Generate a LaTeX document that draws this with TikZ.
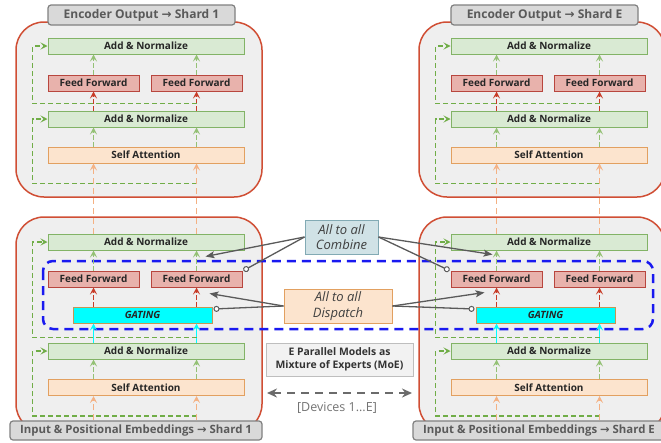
\documentclass[tikz,border=0pt]{standalone}
\usepackage{fontspec}
\setmainfont{Open Sans}
\newfontfamily\arrfont{DejaVu Sans}
\usetikzlibrary{arrows.meta,calc}
\definecolor{moe_panel}{RGB}{239,239,239}
\definecolor{moe_red}{RGB}{208,78,52}
\definecolor{an_fill}{RGB}{217,234,211}
\definecolor{an_draw}{RGB}{130,179,102}
\definecolor{ff_fill}{RGB}{232,178,172}
\definecolor{ff_draw}{RGB}{184,70,62}
\definecolor{sa_fill}{RGB}{252,228,206}
\definecolor{sa_draw}{RGB}{226,160,96}
\definecolor{gate_fill}{RGB}{0,255,255}
\definecolor{gate_draw}{RGB}{196,150,84}
\definecolor{ttl_fill}{RGB}{217,217,217}
\definecolor{ttl_draw}{RGB}{128,128,128}
\definecolor{ttl_text}{RGB}{90,90,90}
\definecolor{cmb_fill}{RGB}{208,226,230}
\definecolor{cmb_draw}{RGB}{130,170,180}
\definecolor{moe_fill}{RGB}{242,242,242}
\definecolor{moe_draw}{RGB}{190,190,190}
\definecolor{arr_gray}{RGB}{90,90,90}
\definecolor{dash_green}{RGB}{112,173,71}
\definecolor{dash_orange}{RGB}{244,177,131}
\definecolor{up_red}{RGB}{200,60,40}
\definecolor{frame_blue}{RGB}{25,25,240}
\tikzstyle{panel}=[rectangle,rounded corners=28pt,fill=moe_panel,draw=moe_red,
  line width=1.5pt,minimum width=246pt]
\tikzstyle{blk}=[rectangle,line width=1pt,minimum height=16pt,inner sep=0pt,
  font=\fontsize{10}{11}\selectfont\bfseries,text=black!85]
\tikzstyle{an}=[blk,fill=an_fill,draw=an_draw,minimum width=196pt]
\tikzstyle{ff}=[blk,fill=ff_fill,draw=ff_draw,minimum width=91pt]
\tikzstyle{sa}=[blk,fill=sa_fill,draw=sa_draw,minimum width=196pt]
\tikzstyle{gate}=[blk,fill=gate_fill,draw=gate_draw,minimum width=139pt,
  font=\fontsize{10}{11}\selectfont\bfseries\itshape]
\tikzstyle{ttl}=[rectangle,rounded corners=3pt,fill=ttl_fill,draw=ttl_draw,
  line width=1.2pt,text=ttl_text,inner sep=0pt,font=\fontsize{12}{14}\selectfont\bfseries]
\tikzstyle{mid}=[rectangle,line width=1pt,inner sep=0pt,align=center,text=black!75,
  font=\fontsize{13}{15.5}\selectfont\itshape,minimum height=34pt]
\tikzstyle{tip}=[-{Stealth[length=7pt,width=7pt,inset=3pt]}]
\tikzstyle{greenup}=[tip,draw=dash_green!75,line width=1pt,dash pattern=on 5pt off 2pt]
\tikzstyle{redup}=[tip,draw=up_red,line width=1pt,dash pattern=on 5pt off 2pt]
\tikzstyle{cyanup}=[tip,draw=gate_fill,line width=1.2pt]
\tikzstyle{orangeup}=[tip,draw=dash_orange,line width=1.2pt,dash pattern=on 6pt off 4pt]
\tikzstyle{loopgreen}=[tip,draw=dash_green,line width=1.2pt,dash pattern=on 5pt off 3pt]
\tikzstyle{grayarr}=[-{Stealth[length=9pt,width=7pt,inset=2pt]},draw=arr_gray,line width=1.3pt]
\tikzstyle{graydot}=[-{Circle[length=6pt,fill=white,line width=1pt]},draw=arr_gray,line width=1.3pt]

\begin{document}
\begin{tikzpicture}[x=1pt,y=-1pt]
    \useasboundingbox (0,0) rectangle (661,442);
    % shard panels
    \foreach \s/\dx in {1/0,E/403} {
    \begin{scope}[xshift=\dx pt]
    \node [panel,minimum height=175pt] (pt-\s) at (139,109.5) {};
    \node [panel,minimum height=215pt] (pb-\s) at (139,324.5) {};
    \end{scope}
    }
    \draw [frame_blue,line width=2.5pt,rounded corners=10pt,dash pattern=on 9pt off 6pt]
      (43,261) rectangle (653,329);
    \foreach \s/\dx in {1/0,E/403} {
    \begin{scope}[xshift=\dx pt]
    % encoder output part
    \node [ttl,minimum width=187pt,minimum height=20pt] (tt-\s) at (141.5,15)
      {Encoder Output {\arrfont\bfseries →} Shard \s};
    \node [an] (ant-\s) at (146,46) {Add \& Normalize};
    \node [ff] (ffta-\s) at (93.5,83) {Feed Forward};
    \node [ff] (fftb-\s) at (196.5,83) {Feed Forward};
    \node [an] (anm-\s) at (146,119) {Add \& Normalize};
    \node [sa] (sat-\s) at (146,155) {Self Attention};
    \draw [greenup] (sat-\s.north -| ffta-\s) to (anm-\s.south -| ffta-\s);
    \draw [greenup] (sat-\s.north -| fftb-\s) to (anm-\s.south -| fftb-\s);
    \draw [redup] (anm-\s.north -| ffta-\s) to (ffta-\s.south);
    \draw [redup] (anm-\s.north -| fftb-\s) to (fftb-\s.south);
    \draw [greenup] (ffta-\s.north) to (ant-\s.south -| ffta-\s);
    \draw [greenup] (fftb-\s.north) to (ant-\s.south -| fftb-\s);
    \draw [loopgreen] ($(fftb-\s.south)+(0,12)$) -| ($(ant-\s.west)+(-15,0)$) to (ant-\s.west);
    \draw [loopgreen] ($(sat-\s.south -| fftb-\s)+(0,20)$) -| ($(anm-\s.west)+(-15,0)$) to (anm-\s.west);
    % moe part
    \node [an] (anb-\s) at (146,242) {Add \& Normalize};
    \node [ff] (ffba-\s) at (93.5,279) {Feed Forward};
    \node [ff] (ffbb-\s) at (196.5,279) {Feed Forward};
    \node [gate] (gate-\s) at (142.5,315) {GATING};
    \node [an] (anl-\s) at (146,351) {Add \& Normalize};
    \node [sa] (sab-\s) at (146,387.5) {Self Attention};
    \node [ttl,minimum width=252pt,minimum height=19pt,font=\fontsize{11.4}{13}\selectfont\bfseries]
      (tb-\s) at (136,430.5) {Input \& Positional Embeddings {\arrfont\bfseries →} Shard \s};
    \draw [orangeup] (anb-\s.north -| ffta-\s) to (sat-\s.south -| ffta-\s);
    \draw [orangeup] (anb-\s.north -| fftb-\s) to (sat-\s.south -| fftb-\s);
    \draw [greenup] (sab-\s.north -| ffba-\s) to (anl-\s.south -| ffba-\s);
    \draw [greenup] (sab-\s.north -| ffbb-\s) to (anl-\s.south -| ffbb-\s);
    \draw [cyanup] (anl-\s.north -| ffba-\s) to (gate-\s.south -| ffba-\s);
    \draw [cyanup] (anl-\s.north -| ffbb-\s) to (gate-\s.south -| ffbb-\s);
    \draw [redup] (gate-\s.north -| ffba-\s) to (ffba-\s.south);
    \draw [redup] (gate-\s.north -| ffbb-\s) to (ffbb-\s.south);
    \draw [greenup] (ffba-\s.north) to (anb-\s.south -| ffba-\s);
    \draw [greenup] (ffbb-\s.north) to (anb-\s.south -| ffbb-\s);
    \draw [loopgreen] ($(gate-\s.south -| ffbb-\s)+(0,14)$) -| ($(anb-\s.west)+(-15,0)$) to (anb-\s.west);
    \draw [loopgreen] ($(sab-\s.south -| ffbb-\s)+(0,20)$) -| ($(anl-\s.west)+(-15,0)$) to (anl-\s.west);
    \draw [orangeup] (tb-\s.north -| ffba-\s) to (sab-\s.south -| ffba-\s);
    \draw [orangeup] (tb-\s.north -| ffbb-\s) to (sab-\s.south -| ffbb-\s);
    \end{scope}
    }
    % all to all
    \node [mid,fill=cmb_fill,draw=cmb_draw,minimum width=73pt] (comb) at (341.5,237) {All to all\\Combine};
    \node [mid,fill=sa_fill,draw=sa_draw,minimum width=108pt] (disp) at (338,306) {All to all\\Dispatch};
    \node [mid,fill=moe_fill,draw=moe_draw,minimum width=147pt,minimum height=33pt,
      font=\fontsize{10.4}{13.5}\selectfont\bfseries,text=black!80] (moe) at (339.5,359.5)
      {E Parallel Models as\\Mixture of Experts (MoE)};
    \coordinate (devl) at (267,393);
    \coordinate (devr) at (412,393);
    \draw [{Stealth[length=10pt,width=9pt]}-{Stealth[length=10pt,width=9pt]},draw=arr_gray!90,
      line width=2.4pt,dash pattern=on 8pt off 6pt] (devl) to (devr);
    \node [text=black!55,font=\fontsize{12.5}{15}\selectfont] (dev) at (337,408) {[Devices 1...E]};
    \draw [grayarr] (comb.west) to ($(ffbb-1.north)+(9,-14)$);
    \draw [graydot] (comb.west) to ($(ffbb-1.north east)+(1,0)$);
    \draw [grayarr] (comb.east) to ($(ffba-E.north)+(-4,-16)$);
    \draw [graydot] (comb.east) to ($(ffba-E.north west)+(-1,0)$);
    \draw [grayarr] (disp.west) to ($(ffbb-1.south)+(13,6)$);
    \draw [graydot] (disp.west) to ($(gate-1.east)+(1,-6)$);
    \draw [grayarr] (disp.east) to ($(ffba-E.south)+(-12,5)$);
    \draw [graydot] (disp.east) to ($(gate-E.west)+(-1,-6)$);
\end{tikzpicture}
\end{document}
